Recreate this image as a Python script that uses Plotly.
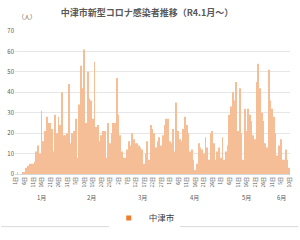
import pandas as pd
import plotly.graph_objects as go

start_date = "2022-01-01"
cases = [
    # Jan
    0, 1, 0, 0, 1, 1, 3, 4, 5, 5, 5, 6, 11, 14, 10, 31, 16, 21, 28, 25,
    25, 22, 11, 29, 20, 28, 24, 40, 19, 19, 20,
    # Feb
    44, 15, 20, 21, 27, 8, 34, 53, 42, 61, 25, 50, 37, 36, 27, 55, 23, 24, 16, 19,
    21, 21, 8, 25, 15, 20, 25, 25,
    # Mar
    47, 29, 19, 11, 8, 8, 12, 16, 14, 20, 17, 15, 15, 14, 13, 12, 5, 10, 16, 7,
    24, 22, 20, 13, 16, 18, 14, 19, 24, 27, 27,
    # Apr
    16, 15, 22, 11, 35, 21, 17, 16, 22, 28, 24, 20, 11, 12, 7, 2, 5, 15, 13, 12,
    10, 18, 13, 7, 20, 21, 15, 7, 11, 13,
    # May
    8, 18, 7, 11, 14, 29, 33, 40, 36, 45, 21, 42, 20, 7, 32, 21, 32, 29, 26, 19,
    17, 45, 54, 42, 30, 26, 15, 13, 51, 36, 32,
    # Jun
    28, 20, 9, 14, 17, 7, 7, 12, 7, 3,
]
series_name = "中津市"
title_text = "中津市新型コロナ感染者推移（R4.1月～）"
unit_label = "（人）"
y_ticks = [0, 10, 20, 30, 40, 50, 60, 70]
month_labels = ["1月", "2月", "3月", "4月", "5月", "6月"]

dates = pd.date_range(start_date, periods=len(cases), freq="D")
tick_dates = dates[::5]
tick_text = [f"{d.day}日" for d in tick_dates]

BAR = "#F6BE96"
LEGEND_SWATCH = "#ED7D31"
GRAY = "#595959"
FONT = "Noto Sans CJK JP"

fig = go.Figure()
fig.add_trace(go.Bar(x=dates, y=cases, marker=dict(color=BAR, line=dict(width=0)),
                     width=0.5 * 86400000, showlegend=False, name=series_name))
fig.add_trace(go.Scatter(x=[None], y=[None], mode="markers", name=series_name,
                         marker=dict(symbol="square", size=5, color=LEGEND_SWATCH)))

annotations = []
for i, m in enumerate(month_labels):
    mdays = dates[dates.month == i + 1]
    mid = mdays[0] + (mdays[-1] - mdays[0]) / 2
    annotations.append(dict(x=mid, y=-0.162, xref="x", yref="paper", text=m,
                            showarrow=False, font=dict(size=6, color=GRAY, family=FONT),
                            xanchor="center", yanchor="middle"))
annotations.append(dict(x=0.043, y=1.103, xref="paper", yref="paper", text=unit_label,
                        showarrow=False, font=dict(size=6, color=GRAY, family=FONT),
                        xanchor="center", yanchor="middle"))

fig.update_layout(
    width=300, height=240,
    margin=dict(l=14, r=7, t=31.5, b=57.5),
    paper_bgcolor="white", plot_bgcolor="white",
    font=dict(family=FONT, color=GRAY),
    title=dict(text=f"<b>{title_text}</b>", x=0.49, xanchor="center", y=0.946, yanchor="middle",
               font=dict(size=9, color=GRAY, family=FONT)),
    xaxis=dict(type="date", range=[dates[0] - pd.Timedelta(hours=12), dates[-1] + pd.Timedelta(hours=12)],
               tickvals=tick_dates, ticktext=tick_text, tickangle=-90,
               tickfont=dict(size=5, color=GRAY, family=FONT), showgrid=False,
               showline=True, linecolor="#D9D9D9", linewidth=1, ticks="", ticklen=0),
    yaxis=dict(range=[0, 70], tickvals=y_ticks, tickfont=dict(size=6, color=GRAY, family=FONT),
               showgrid=True, gridcolor="#E6E6E6", gridwidth=1, zeroline=False, ticks="",
               showline=False),
    legend=dict(orientation="h", x=0.47, xanchor="center", y=-0.308, yanchor="middle",
                font=dict(size=8.5, color="#404040", family=FONT), itemwidth=30),
    annotations=annotations,
    shapes=[dict(type="line", xref="paper", yref="paper", x0=-0.05, x1=1.03,
                 y0=-0.368, y1=-0.368, line=dict(color="#D9D9D9", width=1))],
)

fig.write_html("out.html")
